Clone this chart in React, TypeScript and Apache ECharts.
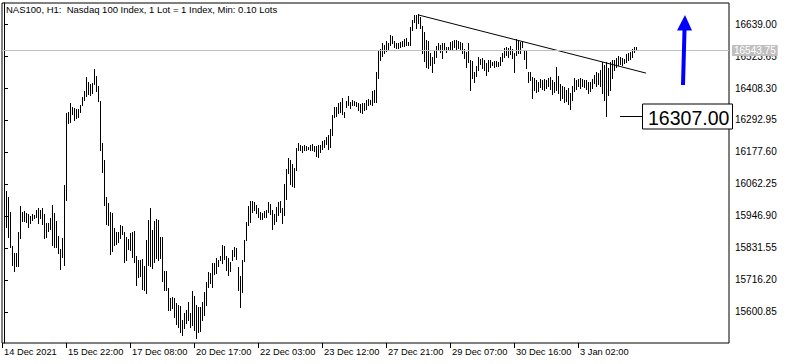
import React, { useEffect, useRef } from "react";
import * as echarts from "echarts";

const header = "NAS100, H1:  Nasdaq 100 Index, 1 Lot = 1 Index, Min: 0.10 Lots";

const highs = [
  16044, 16037, 16015, 15961, 15839, 15814, 15814, 15889, 15983, 15961,
  15965, 15958, 15954, 15947, 15954, 15951, 15969, 15976, 15969, 15976,
  15954, 15922, 15922, 15940, 15987, 15958, 15929, 15875, 15828, 15868,
  16059, 16318, 16322, 16354, 16340, 16336, 16333, 16333, 16347, 16376,
  16398, 16448, 16430, 16423, 16426, 16477, 16452, 16416, 16361, 16210,
  16149, 16015, 15994, 15961, 15958, 15904, 15889, 15889, 15914, 15911,
  15889, 15871, 15864, 15886, 15889, 15893, 15803, 15788, 15788, 15792,
  15767, 15860, 15933, 15976, 15896, 15929, 15936, 15933, 15871, 15871,
  15749, 15749, 15687, 15651, 15655, 15651, 15633, 15626, 15623, 15572,
  15597, 15608, 15637, 15597, 15677, 15659, 15626, 15619, 15619, 15637,
  15673, 15709, 15745, 15741, 15778, 15778, 15796, 15788, 15803, 15842,
  15839, 15803, 15796, 15781, 15824, 15835, 15832, 15763, 15731, 15788,
  15860, 15925, 15983, 16001, 16001, 15997, 15987, 15976, 15961, 15958,
  15965, 15969, 15997, 15990, 15969, 15954, 15979, 15997, 16001, 15976,
  16062, 16116, 16156, 16149, 16134, 16120, 16192, 16210, 16203, 16199,
  16203, 16199, 16196, 16203, 16206, 16199, 16199, 16203, 16203, 16217,
  16221, 16232, 16239, 16261, 16311, 16340, 16340, 16354, 16358, 16372,
  16322, 16361, 16380, 16358, 16365, 16361, 16358, 16354, 16351, 16354,
  16354, 16365, 16369, 16365, 16398, 16401, 16466, 16545, 16549, 16571,
  16563, 16578, 16571, 16599, 16596, 16578, 16571, 16571, 16574, 16578,
  16585, 16589, 16574, 16628, 16653, 16671, 16671, 16675, 16664, 16632,
  16610, 16581, 16578, 16535, 16520, 16545, 16560, 16571, 16563, 16571,
  16571, 16556, 16556, 16574, 16578, 16581, 16581, 16578, 16574, 16571,
  16549, 16538, 16571, 16509, 16506, 16466, 16488, 16520, 16513, 16516,
  16509, 16498, 16509, 16509, 16502, 16506, 16506, 16502, 16520, 16535,
  16553, 16556, 16553, 16560, 16549, 16535, 16585, 16578, 16574, 16578,
  16545, 16545, 16466, 16466, 16448, 16444, 16437, 16430, 16441, 16437,
  16441, 16437, 16444, 16448, 16437, 16430, 16484, 16452, 16423, 16416,
  16412, 16401, 16408, 16390, 16416, 16444, 16437, 16441, 16444, 16441,
  16437, 16437, 16430, 16430, 16441, 16455, 16466, 16462, 16473, 16502,
  16491, 16502, 16480, 16502, 16509, 16509, 16516, 16524, 16520, 16516,
  16513, 16531, 16535, 16538, 16549, 16556, 16556,
];

const lows = [
  15994, 15907, 15871, 15835, 15770, 15749, 15767, 15767, 15868, 15929,
  15929, 15925, 15907, 15922, 15933, 15940, 15943, 15922, 15940, 15918,
  15868, 15871, 15893, 15900, 15842, 15835, 15835, 15814, 15756, 15799,
  15770, 16005, 16282, 16286, 16315, 16293, 16300, 16304, 16322, 16347,
  16365, 16380, 16387, 16383, 16390, 16423, 16398, 16361, 16185, 16106,
  15987, 15918, 15914, 15810, 15821, 15842, 15846, 15853, 15868, 15882,
  15781, 15788, 15828, 15824, 15799, 15781, 15698, 15727, 15731, 15684,
  15680, 15669, 15770, 15767, 15759, 15781, 15796, 15788, 15796, 15713,
  15680, 15680, 15608, 15608, 15615, 15583, 15558, 15547, 15529, 15518,
  15543, 15561, 15572, 15547, 15554, 15536, 15507, 15529, 15532, 15572,
  15590, 15626, 15691, 15705, 15691, 15738, 15741, 15767, 15788, 15778,
  15792, 15752, 15734, 15749, 15788, 15803, 15792, 15680, 15619, 15673,
  15785, 15860, 15914, 15925, 15961, 15969, 15958, 15943, 15936, 15936,
  15943, 15943, 15961, 15954, 15900, 15918, 15929, 15951, 15961, 15922,
  15951, 16008, 16102, 16062, 16055, 16051, 16113, 16185, 16185, 16178,
  16185, 16185, 16188, 16185, 16185, 16181, 16163, 16160, 16178, 16188,
  16196, 16206, 16188, 16196, 16239, 16304, 16307, 16318, 16322, 16315,
  16304, 16340, 16347, 16336, 16347, 16347, 16343, 16329, 16322, 16318,
  16329, 16333, 16347, 16351, 16347, 16358, 16358, 16444, 16509, 16524,
  16535, 16542, 16549, 16563, 16571, 16556, 16553, 16553, 16556, 16560,
  16560, 16563, 16563, 16563, 16617, 16646, 16625, 16643, 16625, 16535,
  16506, 16484, 16480, 16491, 16466, 16498, 16520, 16545, 16538, 16516,
  16545, 16538, 16545, 16549, 16545, 16556, 16549, 16553, 16545, 16535,
  16516, 16484, 16502, 16401, 16444, 16430, 16452, 16473, 16495, 16480,
  16473, 16455, 16470, 16484, 16491, 16484, 16488, 16488, 16491, 16506,
  16520, 16527, 16520, 16531, 16516, 16466, 16527, 16535, 16535, 16556,
  16513, 16480, 16430, 16437, 16372, 16401, 16394, 16398, 16412, 16405,
  16401, 16408, 16416, 16405, 16387, 16394, 16401, 16390, 16365, 16372,
  16358, 16361, 16351, 16333, 16365, 16398, 16405, 16416, 16408, 16416,
  16412, 16405, 16390, 16398, 16408, 16426, 16416, 16423, 16416, 16390,
  16365, 16307, 16383, 16401, 16444, 16473, 16484, 16491, 16495, 16491,
  16498, 16502, 16509, 16513, 16520, 16538, 16544,
];

const timeTickIndex = [-1, 31, 63, 95, 127, 159, 191, 223, 255, 287];
const timeTickLabels = [
  "14 Dec 2021", "15 Dec 22:00", "17 Dec 08:00", "20 Dec 17:00", "22 Dec 03:00",
  "23 Dec 12:00", "27 Dec 21:00", "29 Dec 07:00", "30 Dec 16:00", "3 Jan 02:00",
];
const priceTicks = [
  15600.85, 15716.2, 15831.55, 15946.9, 16062.25, 16177.6, 16292.95, 16408.3, 16523.65, 16639.0,
];
const lastPrice = 16543.75;
const markedPrice = 16307.0;
const markedFrom = 308;
const markedTo = 319;
const trendLine = [
  [207, 16672],
  [321, 16462],
];
const arrowIndex = 340;
const arrowTail = 16419;
const arrowTip = 16671;

const FONT = '"Liberation Sans", Arial, sans-serif';

export default function App() {
  const ref = useRef<HTMLDivElement>(null);
  useEffect(() => {
    const chart = echarts.init(ref.current as HTMLDivElement, null, { renderer: "svg" });
    const bars = highs.map((h, i) => [i, h, lows[i]]);
    chart.setOption({
      animation: false,
      backgroundColor: "#fff",
      title: {
        text: header,
        left: 6,
        top: 4,
        padding: 0,
        textStyle: { fontSize: 9.5, fontWeight: "normal", color: "#000", fontFamily: FONT },
      },
      grid: {
        left: 2,
        top: 3,
        width: 727,
        height: 340,
        show: true,
        borderColor: "#000",
        borderWidth: 1,
        backgroundColor: "#fff",
      },
      xAxis: {
        type: "value",
        min: -1,
        max: 362.5,
        axisLine: { show: false },
        splitLine: { show: false },
        axisTick: {
          show: true,
          customValues: timeTickIndex,
          length: 5,
          lineStyle: { color: "#000" },
        },
        axisLabel: {
          show: true,
          customValues: timeTickIndex,
          showMinLabel: true,
          formatter: (v: number) => {
            const k = timeTickIndex.indexOf(Math.round(v));
            return k >= 0 ? timeTickLabels[k] : "";
          },
          align: "left",
          margin: 4,
          padding: [0, 0, 0, 2],
          fontSize: 9.3,
          color: "#000",
          fontFamily: FONT,
        },
      },
      yAxis: {
        type: "value",
        position: "right",
        min: 15489.1,
        max: 16714.7,
        axisLine: { show: true, lineStyle: { color: "#000" } },
        splitLine: { show: false },
        axisTick: {
          show: true,
          customValues: priceTicks,
          length: 4,
          lineStyle: { color: "#000" },
        },
        axisLabel: {
          customValues: priceTicks,
          formatter: (v: number) => v.toFixed(2),
          margin: 6,
          fontSize: 10,
          color: "#000",
          fontFamily: FONT,
        },
      },
      series: [
        {
          type: "custom",
          silent: true,
          clip: true,
          encode: { x: 0, y: [1, 2] },
          data: bars,
          renderItem: (params: any, api: any) => {
            const i = api.value(0);
            const top = api.coord([i, api.value(1)]);
            const bot = api.coord([i, api.value(2)]);
            const x = Math.round(top[0]);
            const y0 = Math.round(top[1]);
            const y1 = Math.round(bot[1]);
            return {
              type: "rect",
              shape: { x, y: y0, width: 1, height: Math.max(1, y1 - y0 + 1) },
              style: { fill: "#000" },
            };
          },
          markLine: {
            silent: true,
            symbol: ["none", "none"],
            animation: false,
            lineStyle: { color: "#c0c0c0", type: "solid", width: 1 },
            label: {
              show: true,
              position: "end",
              formatter: () => lastPrice.toFixed(2),
              color: "#fff",
              backgroundColor: "#c0c0c0",
              fontSize: 10,
              fontFamily: FONT,
              padding: [1, 2, 0, 2],
              distance: 3,
            },
            data: [{ yAxis: lastPrice }],
          },
          z: 2,
        },
        {
          type: "line",
          data: trendLine,
          showSymbol: false,
          symbol: "none",
          silent: true,
          lineStyle: { color: "#000", width: 1 },
          z: 3,
        },
      ],
    });

    const px = (i: number, v: number) =>
      chart.convertToPixel({ gridIndex: 0 }, [i, v]) as number[];
    const a = px(markedFrom, markedPrice);
    const b = px(markedTo, markedPrice);
    const tip = px(arrowIndex, arrowTip);
    const tail = px(arrowIndex, arrowTail);
    const ly = Math.round(a[1]) + 0.5;
    const headBase = tip[1] + 15;
    chart.setOption({
      graphic: [
        {
          type: "line",
          shape: { x1: a[0], y1: ly, x2: b[0], y2: ly },
          style: { stroke: "#000", lineWidth: 1 },
          z: 10,
        },
        {
          type: "rect",
          shape: { x: b[0] + 0.5, y: ly - 12.5, width: 90, height: 25 },
          style: { fill: "#fff", stroke: "#000", lineWidth: 1 },
          z: 10,
        },
        {
          type: "text",
          x: b[0] + 6,
          y: ly + 1,
          style: {
            text: markedPrice.toFixed(2),
            font: `19.5px ${FONT}`,
            fill: "#000",
            textVerticalAlign: "middle",
            verticalAlign: "middle",
          },
          z: 11,
        },
        {
          type: "polygon",
          shape: {
            points: [
              [tail[0] - 3, tail[1]],
              [tail[0] + 1, tail[1]],
              [tip[0] + 2.5, headBase],
              [tip[0] - 1.5, headBase],
            ],
          },
          style: { fill: "#0000ff" },
          z: 10,
        },
        {
          type: "polygon",
          shape: {
            points: [
              [tip[0] - 7, headBase + 0.5],
              [tip[0] + 8, headBase + 0.5],
              [tip[0] + 1, tip[1]],
            ],
          },
          style: { fill: "#0000ff" },
          z: 10,
        },
      ],
    });
    return () => chart.dispose();
  }, []);
  return (
    <div
      ref={ref}
      style={{ position: "fixed", left: 0, top: 0, width: 787, height: 364, background: "#fff" }}
    />
  );
}
